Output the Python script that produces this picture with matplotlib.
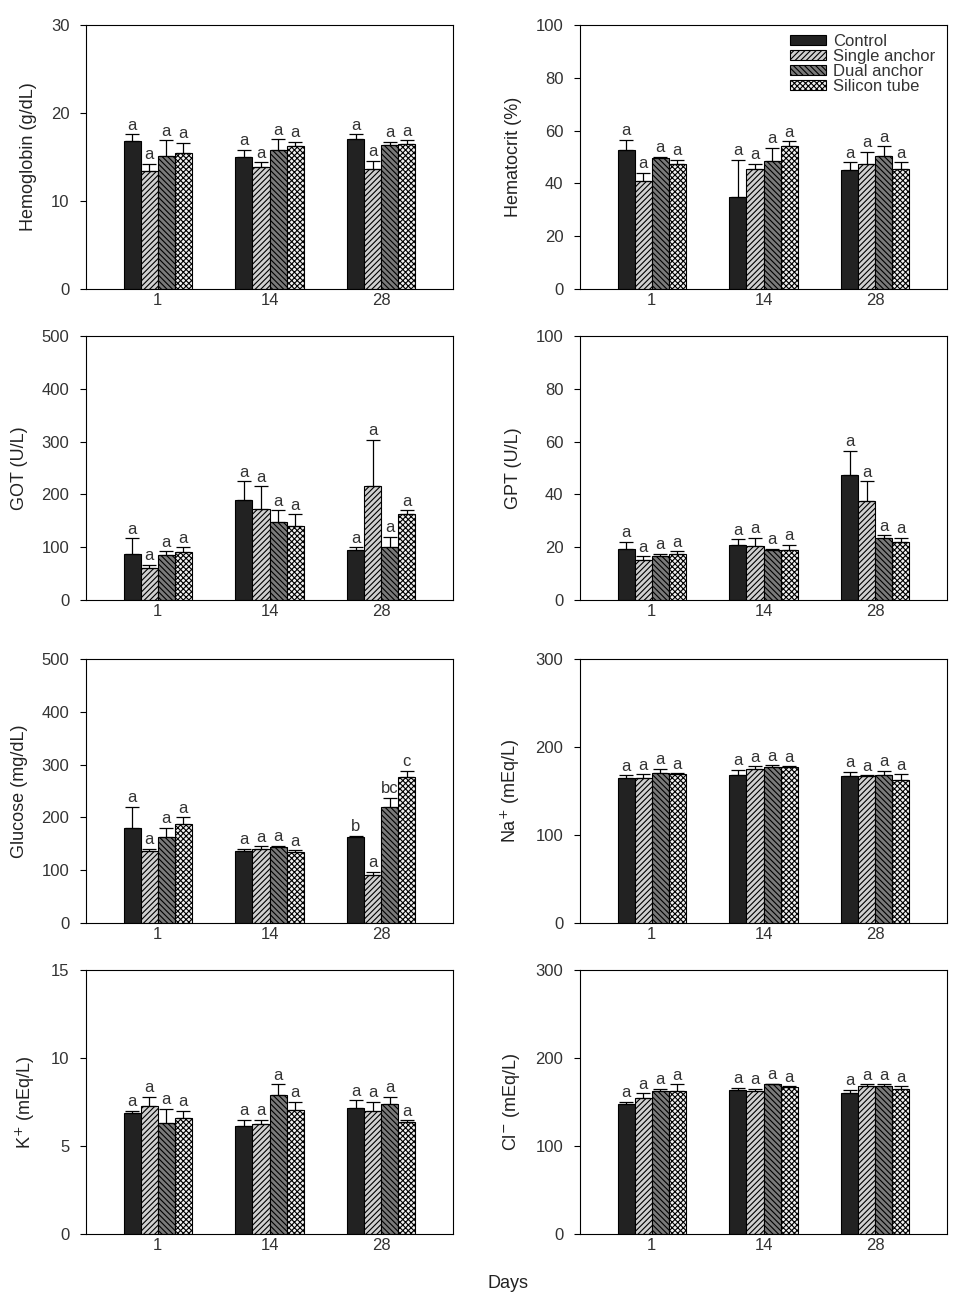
import matplotlib
matplotlib.use("Agg")
import matplotlib.pyplot as plt
import numpy as np

plt.rcParams['font.family'] = ['Liberation Sans', 'DejaVu Sans']
plt.rcParams['hatch.linewidth'] = 0.8

# Gruppen und Serien
days = ['1', '14', '28']
groups = ['Control', 'Single anchor', 'Dual anchor', 'Silicon tube']

# Mittelwerte (je Gruppe: Tag 1, 14, 28) und obere Fehlergrenze
hb_mean = [[16.8, 15.0, 17.1], [13.4, 13.9, 13.6], [15.1, 15.8, 16.4], [15.4, 16.3, 16.5]]
hb_err = [[0.8, 0.8, 0.5], [0.8, 0.5, 1.0], [1.8, 1.2, 0.3], [1.2, 0.4, 0.4]]
hct_mean = [[52.5, 35.0, 45.0], [41.0, 45.5, 47.5], [49.5, 48.5, 50.5], [47.5, 54.0, 45.5]]
hct_err = [[4.0, 14.0, 3.0], [3.0, 2.0, 4.5], [0.5, 5.0, 3.5], [1.5, 2.0, 2.5]]
got_mean = [[88, 190, 95], [60, 172, 215], [85, 147, 100], [90, 140, 162]]
got_err = [[29, 35, 5], [7, 43, 88], [7, 23, 20], [10, 22, 8]]
gpt_mean = [[19.5, 21.0, 47.5], [15.0, 20.5, 37.5], [16.5, 19.0, 23.5], [17.5, 19.0, 22.0]]
gpt_err = [[2.5, 2.0, 9.0], [1.5, 3.0, 7.5], [1.0, 0.5, 1.0], [1.0, 2.0, 1.5]]
glu_mean = [[180, 137, 163], [137, 140, 90], [163, 143, 220], [187, 135, 277]]
glu_err = [[40, 3, 2], [3, 5, 7], [17, 3, 17], [13, 3, 11]]
na_mean = [[165, 168, 167], [165, 175, 167], [170, 177, 168], [169, 177, 163]]
na_err = [[3, 6, 5], [4, 3, 1], [5, 2, 5], [1, 1, 6]]
k_mean = [[6.85, 6.15, 7.15], [7.25, 6.25, 7.0], [6.3, 7.9, 7.4], [6.6, 7.05, 6.35]]
k_err = [[0.15, 0.35, 0.45], [0.55, 0.25, 0.5], [0.8, 0.6, 0.4], [0.4, 0.45, 0.1]]
cl_mean = [[148, 164, 160], [155, 163, 168], [163, 170, 168], [163, 167, 165]]
cl_err = [[2, 2, 4], [5, 2, 2], [2, 1, 2], [7, 1, 3]]

# Buchstaben der Signifikanz
glu_letters = [['a', 'a', 'b'], ['a', 'a', 'a'], ['a', 'a', 'bc'], ['a', 'a', 'c']]
all_a = [['a'] * 3 for _ in range(4)]

panels = [
    ('Hemoglobin (g/dL)', hb_mean, hb_err, 30, 10, all_a),
    ('Hematocrit (%)', hct_mean, hct_err, 100, 20, all_a),
    ('GOT (U/L)', got_mean, got_err, 500, 100, all_a),
    ('GPT (U/L)', gpt_mean, gpt_err, 100, 20, all_a),
    ('Glucose (mg/dL)', glu_mean, glu_err, 500, 100, glu_letters),
    ('Na$^{+}$ (mEq/L)', na_mean, na_err, 300, 100, all_a),
    ('K$^{+}$ (mEq/L)', k_mean, k_err, 15, 5, all_a),
    ('Cl$^{-}$ (mEq/L)', cl_mean, cl_err, 300, 100, all_a),
]

colors = ['#222222', '#d0d0d0', '#7a7a7a', '#f0f0f0']
hatches = [None, '//////', '\\\\\\\\\\\\', 'xxxxxx']
txt = '#333333'

W, H = 969, 1310
fig = plt.figure(figsize=(W / 100, H / 100), dpi=100)

lefts = [86, 580]
tops = [25, 336, 659, 970]
aw, ah = 367, 264

width = 0.152
x = np.arange(3)
for i, (lab, mean, err, ymax, step, letters) in enumerate(panels):
    r, c = divmod(i, 2)
    ax = fig.add_axes([lefts[c] / W, 1 - (tops[r] + ah) / H, aw / W, ah / H])
    for g in range(4):
        pos = x + (g - 1.5) * width
        ax.bar(pos, mean[g], width, color=colors[g], edgecolor='black',
               linewidth=0.8, hatch=hatches[g], label=groups[g], zorder=2)
        ax.errorbar(pos, mean[g], yerr=[np.zeros(3), err[g]], fmt='none',
                    ecolor='black', elinewidth=0.9, capsize=5, capthick=0.9, zorder=3)
        for j in range(3):
            ax.text(pos[j], mean[g][j] + err[g][j] + ymax * 0.006, letters[g][j],
                    ha='center', va='bottom', fontsize=12, color=txt)
    ax.set_xlim(-0.64, 2.64)
    ax.set_ylim(0, ymax)
    ax.set_yticks(np.arange(0, ymax + 1, step))
    ax.set_xticks(x)
    ax.set_xticklabels(days)
    ax.tick_params(axis='x', length=0, labelsize=12, pad=3, labelcolor=txt)
    ax.tick_params(axis='y', direction='out', length=4, labelsize=12, pad=8, labelcolor=txt)
    ax.set_ylabel(lab, fontsize=13, labelpad=10, color='#222222')
    if i == 1:
        ax.legend(loc='upper right', frameon=False, fontsize=12, handlelength=2.2,
                  handleheight=0.55, labelspacing=0.0, handletextpad=0.4,
                  borderaxespad=0.3, bbox_to_anchor=(1.0, 1.01), labelcolor=txt)

fig.text(508 / W, 1 - 1284 / H, 'Days', ha='center', va='center', fontsize=13, color='#222222')

fig.savefig('out.png', dpi=100)
